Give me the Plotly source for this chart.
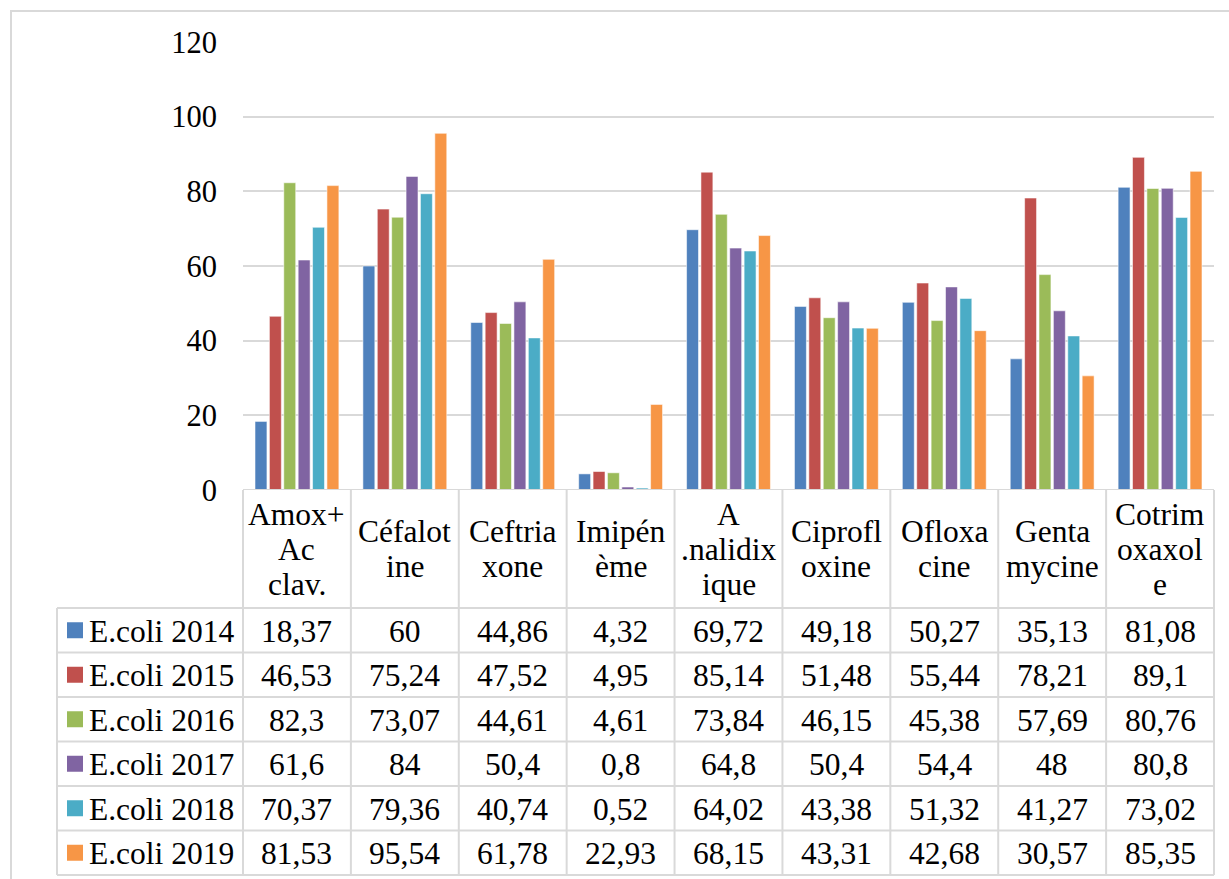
import plotly.graph_objects as go

# Antibiotics (header cells are wrapped exactly as printed)
header_lines = [
    ["Amox+", "Ac", "clav."],
    ["Céfalot", "ine"],
    ["Ceftria", "xone"],
    ["Imipén", "ème"],
    ["A", ".nalidix", "ique"],
    ["Ciprofl", "oxine"],
    ["Ofloxa", "cine"],
    ["Genta", "mycine"],
    ["Cotrim", "oxaxol", "e"],
]
categories = ["".join(lines) for lines in header_lines]

series_names = ["E.coli 2014", "E.coli 2015", "E.coli 2016",
                "E.coli 2017", "E.coli 2018", "E.coli 2019"]
series_colors = ["#4F81BD", "#C0504D", "#9BBB59", "#8064A2", "#4BACC6", "#F79646"]

ecoli_2014 = [18.37, 60, 44.86, 4.32, 69.72, 49.18, 50.27, 35.13, 81.08]
ecoli_2015 = [46.53, 75.24, 47.52, 4.95, 85.14, 51.48, 55.44, 78.21, 89.1]
ecoli_2016 = [82.3, 73.07, 44.61, 4.61, 73.84, 46.15, 45.38, 57.69, 80.76]
ecoli_2017 = [61.6, 84, 50.4, 0.8, 64.8, 50.4, 54.4, 48, 80.8]
ecoli_2018 = [70.37, 79.36, 40.74, 0.52, 64.02, 43.38, 51.32, 41.27, 73.02]
ecoli_2019 = [81.53, 95.54, 61.78, 22.93, 68.15, 43.31, 42.68, 30.57, 85.35]
series_values = [ecoli_2014, ecoli_2015, ecoli_2016, ecoli_2017, ecoli_2018, ecoli_2019]

y_ticks = [0, 20, 40, 60, 80, 100, 120]

# ---- page geometry (pixels) ----
W, H = 1229, 879
PLOT_L, PLOT_R = 243, 1214
PLOT_T, PLOT_B = 42, 490
PW, PH = PLOT_R - PLOT_L, PLOT_B - PLOT_T
FONT = "Liberation Serif"
FS_TABLE = 31.5
FS_AXIS = 30.5
GRID = "#d9d9d9"

HEADER_BOTTOM = 608
ROW_H = 44.5
LEGEND_LEFT = 57


def px_x(px):
    return (px - PLOT_L) / PW


def px_y(py):
    return (PLOT_B - py) / PH


def fmt(v):
    return str(v).replace(".", ",")


n_cat = len(categories)
fig = go.Figure()
for name, vals, color in zip(series_names, series_values, series_colors):
    fig.add_trace(go.Bar(
        x=categories, y=vals, name=name,
        marker=dict(color=color, line=dict(color="rgba(255,255,255,0.55)", width=1)),
    ))

shapes = []
annotations = []
table_font = dict(family=FONT, size=FS_TABLE, color="black")

# chart frame
shapes.append(dict(type="rect", xref="paper", yref="paper",
                   x0=px_x(11), x1=px_x(W + 20), y0=px_y(11), y1=px_y(H + 20),
                   line=dict(color=GRID, width=2), layer="below"))

# category axis line / table top
shapes.append(dict(type="line", xref="paper", yref="y", x0=0, x1=1, y0=0, y1=0,
                   line=dict(color=GRID, width=2)))

n_rows = len(series_names)
row_edges = [HEADER_BOTTOM + ROW_H * k for k in range(n_rows + 1)]
table_bottom = row_edges[-1]

# horizontal table rules
for y in row_edges:
    shapes.append(dict(type="line", xref="paper", yref="paper",
                       x0=px_x(LEGEND_LEFT), x1=1, y0=px_y(y), y1=px_y(y),
                       line=dict(color=GRID, width=2)))
# vertical rules on category boundaries
for i in range(n_cat + 1):
    xb = i / n_cat
    shapes.append(dict(type="line", xref="paper", yref="paper",
                       x0=xb, x1=xb, y0=px_y(PLOT_B), y1=px_y(table_bottom),
                       line=dict(color=GRID, width=2)))
shapes.append(dict(type="line", xref="paper", yref="paper",
                   x0=px_x(LEGEND_LEFT), x1=px_x(LEGEND_LEFT),
                   y0=px_y(HEADER_BOTTOM), y1=px_y(table_bottom),
                   line=dict(color=GRID, width=2)))

# header cells
header_mid = (PLOT_B + HEADER_BOTTOM) / 2
line_step = 35
for i, lines in enumerate(header_lines):
    xc = (i + 0.5) / n_cat
    n = len(lines)
    for j, txt in enumerate(lines):
        yc = header_mid + (j - (n - 1) / 2) * line_step
        annotations.append(dict(xref="paper", yref="paper", x=xc, y=px_y(yc),
                                text=txt, showarrow=False, xanchor="center",
                                yanchor="middle", font=table_font))

# data rows with legend keys
for r, (name, vals, color) in enumerate(zip(series_names, series_values, series_colors)):
    yc = (row_edges[r] + row_edges[r + 1]) / 2
    shapes.append(dict(type="rect", xref="paper", yref="paper",
                       x0=px_x(67), x1=px_x(83), y0=px_y(yc - 8), y1=px_y(yc + 8),
                       fillcolor=color, line=dict(width=0)))
    annotations.append(dict(xref="paper", yref="paper", x=px_x(87), y=px_y(yc + 1),
                            text=name, showarrow=False, xanchor="left", yanchor="middle",
                            font=table_font))
    for i, v in enumerate(vals):
        annotations.append(dict(xref="paper", yref="paper", x=(i + 0.5) / n_cat,
                                y=px_y(yc + 1), text=fmt(v), showarrow=False,
                                xanchor="center", yanchor="middle", font=table_font))

fig.update_layout(
    width=W, height=H,
    margin=dict(l=PLOT_L, r=W - PLOT_R, t=PLOT_T, b=H - PLOT_B, pad=0),
    paper_bgcolor="white", plot_bgcolor="white",
    showlegend=False,
    barmode="group", bargap=0.2, bargroupgap=0.17,
    font=dict(family=FONT, size=FS_AXIS, color="black"),
    xaxis=dict(type="category", range=[-0.5, n_cat - 0.5], showticklabels=False,
               showgrid=False, zeroline=False, showline=False, ticks=""),
    yaxis=dict(range=[0, 120], tickvals=y_ticks, ticktext=[str(t) for t in y_ticks],
               showgrid=True, gridcolor=GRID, gridwidth=2, zeroline=False,
               showline=False, ticks="", ticklabelstandoff=25,
               tickfont=dict(family=FONT, size=FS_AXIS, color="black")),
    shapes=shapes, annotations=annotations,
)

fig.write_html("out.html")
